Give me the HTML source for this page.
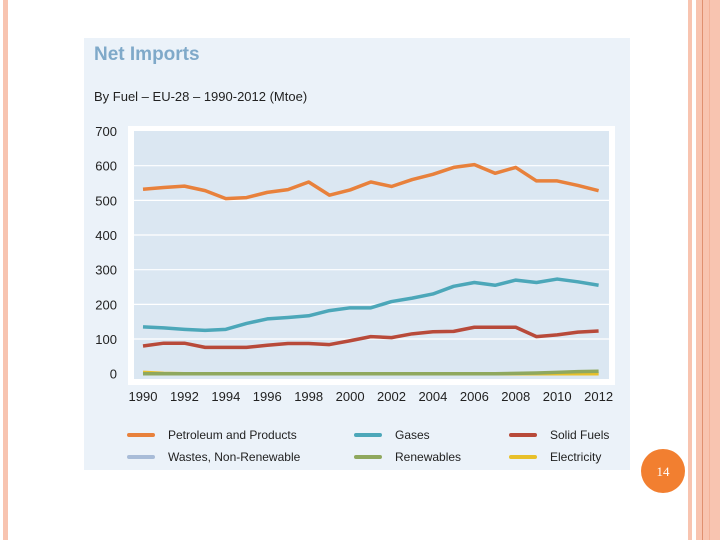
<!DOCTYPE html>
<html><head><meta charset="utf-8"><style>
body{margin:0;width:720px;height:540px;background:#fff;position:relative;overflow:hidden;font-family:"Liberation Sans",sans-serif}
.abs{position:absolute}
</style></head><body>
<div class="abs" style="left:3px;top:0;width:5px;height:540px;background:#f8c4b0"></div>
<div class="abs" style="left:688px;top:0;width:4px;height:540px;background:#f8c4b0"></div>
<div class="abs" style="left:696px;top:0;width:24px;height:540px;background:#f8c4b0"></div>
<div class="abs" style="left:702px;top:0;width:1px;height:540px;background:#e09070"></div>
<div class="abs" style="left:709px;top:0;width:1px;height:540px;background:#f3b299"></div>
<div class="abs" style="left:84px;top:38px;width:546px;height:432px;background:#ebf2f9"></div>
<div class="abs" style="left:94px;top:44px;font-size:19px;font-weight:bold;color:#7fa9c9">Net Imports</div>
<div class="abs" style="left:94px;top:89px;font-size:13px;color:#222">By Fuel – EU-28 – 1990-2012 (Mtoe)</div>
<svg class="abs" style="left:0;top:0" width="720" height="540">
<rect x="128" y="126" width="487" height="259" fill="#fff"/>
<rect x="134" y="131" width="475" height="248" fill="#dbe7f2"/>
<g id="grid"></g><g id="ylab"></g><g id="xlab"></g><g id="lines"></g>
<circle cx="663" cy="471" r="22" fill="#f27f30"/>
<text x="663" y="476" text-anchor="middle" font-family="Liberation Serif,serif" font-size="13" fill="#fff">14</text>
</svg>
<div class="abs" style="left:0;top:0;font-size:12px;color:#222">
<div class="abs" style="left:127px;top:428px;width:350px"><span class="abs" style="left:0;top:5px;width:28px;height:4px;background:#e8813c;border-radius:2px"></span><span class="abs" style="left:41px;top:0;white-space:nowrap">Petroleum and Products</span></div>
<div class="abs" style="left:354px;top:428px"><span class="abs" style="left:0;top:5px;width:28px;height:4px;background:#4ca7b9;border-radius:2px"></span><span class="abs" style="left:41px;top:0">Gases</span></div>
<div class="abs" style="left:509px;top:428px"><span class="abs" style="left:0;top:5px;width:28px;height:4px;background:#b84a3a;border-radius:2px"></span><span class="abs" style="left:41px;top:0;white-space:nowrap">Solid Fuels</span></div>
<div class="abs" style="left:127px;top:450px"><span class="abs" style="left:0;top:5px;width:28px;height:4px;background:#a8bcd8;border-radius:2px"></span><span class="abs" style="left:41px;top:0;white-space:nowrap">Wastes, Non-Renewable</span></div>
<div class="abs" style="left:354px;top:450px"><span class="abs" style="left:0;top:5px;width:28px;height:4px;background:#8fa85e;border-radius:2px"></span><span class="abs" style="left:41px;top:0">Renewables</span></div>
<div class="abs" style="left:509px;top:450px"><span class="abs" style="left:0;top:5px;width:28px;height:4px;background:#e8c02a;border-radius:2px"></span><span class="abs" style="left:41px;top:0">Electricity</span></div>
</div>
<script>
const years=[1990,1991,1992,1993,1994,1995,1996,1997,1998,1999,2000,2001,2002,2003,2004,2005,2006,2007,2008,2009,2010,2011,2012];
const petroleum=[532,537,541,528,505,508,523,531,553,515,530,553,540,560,575,595,603,578,595,556,556,543,528];
const gases=[135,132,128,125,128,145,158,162,167,182,190,190,208,218,230,252,263,255,270,263,273,265,255];
const solidFuels=[80,88,88,76,76,76,82,87,87,84,95,107,104,115,121,122,134,134,134,107,112,120,123];
const wastes=[0,0,0,0,0,0,0,0,0,0,0,0,0,0,0,0,0,0,0,0,0,0,0];
const renewables=[0,0,0,0,0,0,0,0,0,0,0,0,0,0,0,0,0,0,1,2,4,6,7];
const electricity=[4,1,0,0,0,0,0,0,0,0,0,0,0,0,0,0,0,0,0,0,0,0,0];
const yTicks=[0,100,200,300,400,500,600,700];
const xTicks=[1990,1992,1994,1996,1998,2000,2002,2004,2006,2008,2010,2012];
const NS="http://www.w3.org/2000/svg";
const xS=y=>143+(y-1990)*(598.6-143)/22;
const yS=v=>373.7-v*(373.7-131)/700;
function mk(t,a,p){const e=document.createElementNS(NS,t);for(const k in a)e.setAttribute(k,a[k]);document.getElementById(p).appendChild(e);return e;}
yTicks.forEach(v=>{
 if(v>0&&v<700){const g=mk('line',{x1:134,x2:609,y1:yS(v),y2:yS(v),stroke:'#fff','stroke-width':1.2},'grid');
 
 }
 const t=mk('text',{x:117,y:yS(v)+5,'text-anchor':'end','font-size':13,fill:'#222'},'ylab');t.textContent=v;
 
 
});
xTicks.forEach(y=>{const t=mk('text',{x:xS(y),y:401,'text-anchor':'middle','font-size':13,fill:'#222'},'xlab');t.textContent=y;
 
 });
[[wastes,'#a8bcd8','line-wastes'],[electricity,'#e8c02a','line-electricity'],[renewables,'#8fa85e','line-renewables'],[solidFuels,'#b84a3a','line-solid-fuels'],[gases,'#4ca7b9','line-gases'],[petroleum,'#e8813c','line-petroleum']].forEach(([d,c,n])=>{
 const p=mk('polyline',{points:d.map((v,i)=>xS(years[i])+','+yS(v)).join(' '),fill:'none',stroke:c,'stroke-width':3.5,'stroke-linejoin':'round'},'lines');
 
 
});
</script>
</body></html>
